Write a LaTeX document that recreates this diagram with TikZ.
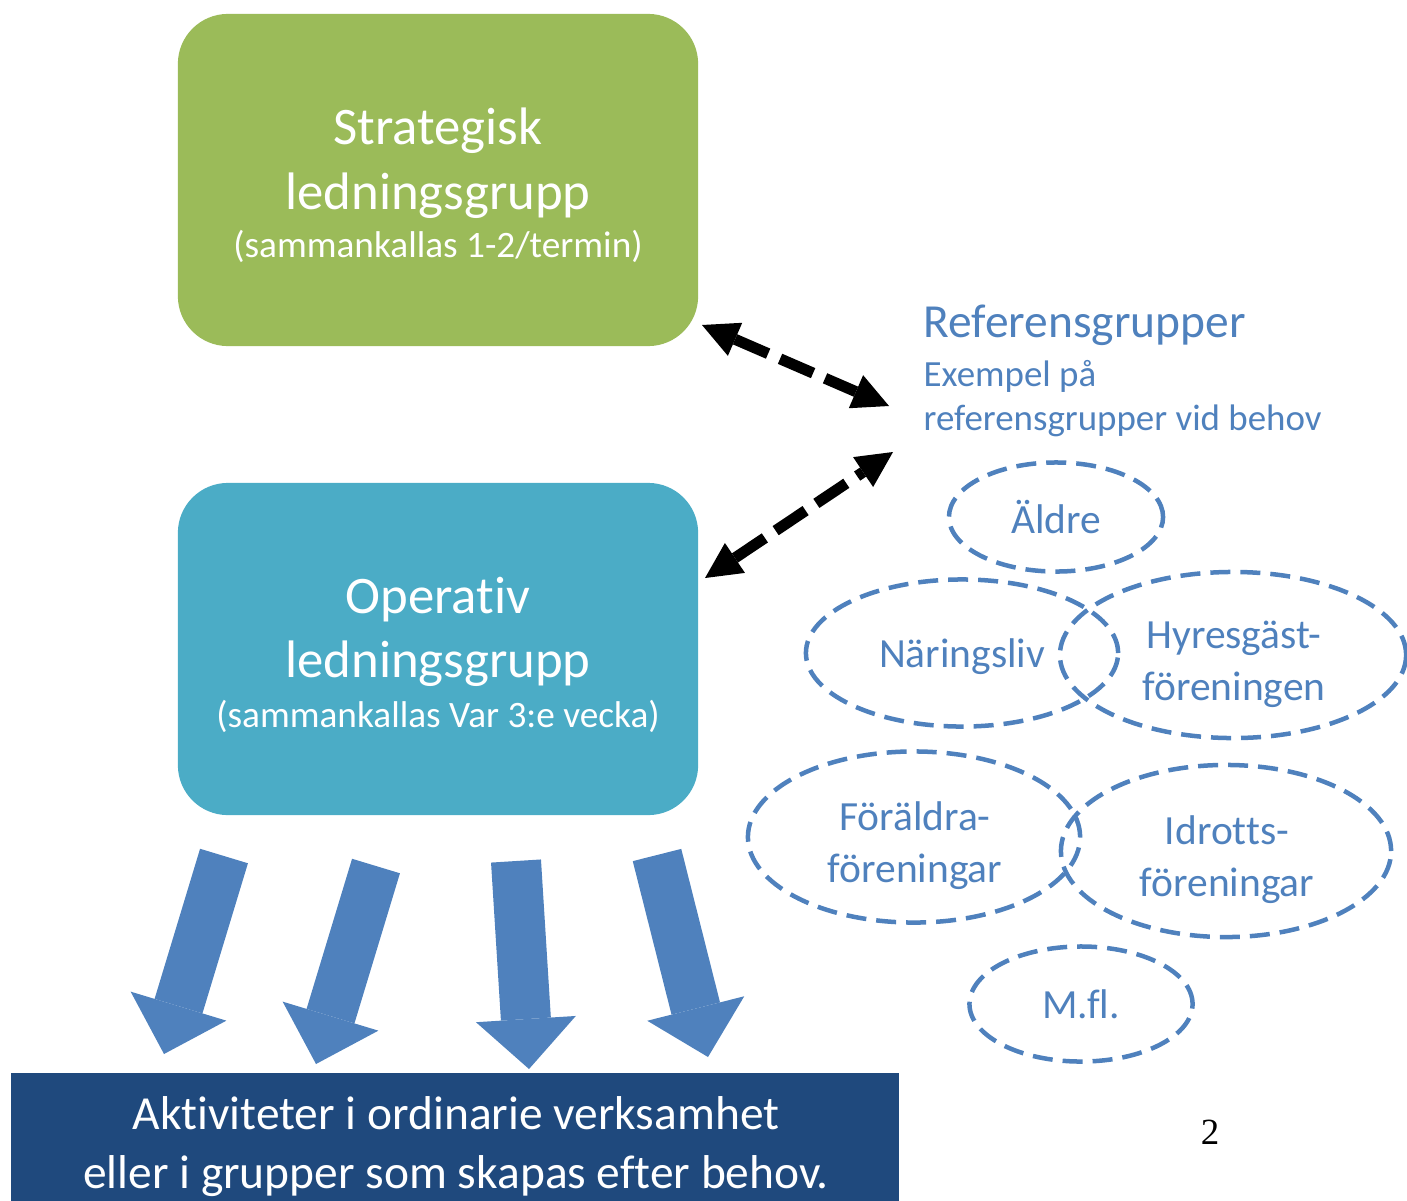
\documentclass[tikz,border=0pt]{standalone}
\usepackage{fontspec}
\setmainfont{Carlito}[Ligatures=NoCommon]
\newfontfamily\pagenumfont{Liberation Serif}
\usetikzlibrary{positioning, shapes.geometric, arrows.meta}

\definecolor{stratgreen}{HTML}{9BBB59}
\definecolor{opteal}{HTML}{4BACC6}
\definecolor{actnavy}{HTML}{1F497D}
\definecolor{refblue}{HTML}{4F81BD}

\begin{document}
\begin{tikzpicture}[
    x=0.01cm, y=-0.01cm,
    leadbox/.style={rectangle, rounded corners=0.5cm, minimum width=5.2cm, minimum height=3.32cm, inner sep=0pt},
    boxtitle/.style={text=white, align=center, inner sep=0pt, font=\fontsize{15}{18.4}\selectfont},
    boxnote/.style={text=white, inner sep=0pt, font=\fontsize{10.6}{12}\selectfont},
    refgroup/.style={ellipse, draw=refblue, line width=0.045cm, dash pattern=on 0.2cm off 0.1cm, inner sep=0pt, text=refblue, align=center, font=\fontsize{11.8}{14.8}\selectfont},
    reflabel/.style={text=refblue, align=center, inner sep=0pt, font=\fontsize{11.8}{14.8}\selectfont},
    reftext/.style={text=refblue, anchor=west, inner sep=0pt},
    link/.style={draw, line width=0.11cm, dash pattern=on 0.36cm off 0.13cm, {Triangle[length=0.36cm, width=0.36cm, line width=0pt]}-{Triangle[length=0.36cm, width=0.36cm, line width=0pt]}},
    flow/.style={draw=refblue, line width=0.5cm, -{Triangle[length=0.5cm, width=1cm, line width=0pt]}}
]
\useasboundingbox (0,0) rectangle (1407,1200);

% Leadership groups
\node[leadbox, fill=stratgreen] (strat) at (438,180) {};
\node[boxtitle] (strattitle) at (438,163) {Strategisk\\ledningsgrupp};
\node[boxnote] (stratnote) at (438,246) {(sammankallas 1-2/termin)};

\node[leadbox, fill=opteal] (oper) at (438,649) {};
\node[boxtitle] (opertitle) at (438,632) {Operativ\\ledningsgrupp};
\node[boxnote] (opernote) at (438,716) {(sammankallas Var 3:e vecka)};

% Activities
\node[rectangle, fill=actnavy, minimum width=8.88cm, minimum height=1.28cm, anchor=north west, inner sep=0pt] (acts) at (10,1072) {};
\node[text=white, align=center, inner sep=0pt, font=\fontsize{13.5}{16.8}\selectfont] (actstext) at (456,1147) {Aktiviteter i ordinarie verksamhet\\eller i grupper som skapas efter behov.};

% Reference groups
\node[reftext, font=\fontsize{13.5}{16}\selectfont] (reftitle) at (923,325) {Referensgrupper};
\node[reftext, font=\fontsize{10.5}{12}\selectfont] (refex) at (923,376) {Exempel på};
\node[reftext, font=\fontsize{10.5}{12}\selectfont] (refneed) at (923,421) {referensgrupper vid behov};

\node[refgroup, minimum width=2.14cm, minimum height=1.09cm] (aldre) at (1056,517) {Äldre};
\node[refgroup, minimum width=3.12cm, minimum height=1.47cm] (naring) at (962,653) {};
\node[refgroup, minimum width=3.46cm, minimum height=1.66cm] (hyres) at (1233,655) {};
\node[refgroup, minimum width=3.32cm, minimum height=1.71cm] (foraldra) at (914,837) {};
\node[refgroup, minimum width=3.30cm, minimum height=1.72cm] (idrott) at (1226,851) {};
\node[refgroup, minimum width=2.23cm, minimum height=1.15cm] (mfl) at (1081,1004) {M.fl.};

\node[reflabel] (naringlabel) at (962,657) {Näringsliv};
\node[reflabel] (hyreslabel) at (1234,664) {Hyresgäst-\\föreningen};
\node[reflabel] (foraldralabel) at (915,846) {Föräldra-\\föreningar};
\node[reflabel] (idrottlabel) at (1227,860) {Idrotts-\\föreningar};

% Links to the reference groups
\coordinate (stratlink) at (702,325);
\coordinate (reflinktop) at (889,406);
\coordinate (operlink) at (705,578);
\coordinate (reflinkbot) at (893,452);
\draw[link] (stratlink) -- (reflinktop);
\draw[link] (operlink) -- (reflinkbot);

% Flow down to the activities
\coordinate (flowa) at (224,856);
\coordinate (flowaend) at (164,1054);
\coordinate (flowb) at (376,866);
\coordinate (flowbend) at (316,1064);
\coordinate (flowc) at (516,861);
\coordinate (flowcend) at (529,1069);
\coordinate (flowd) at (657,855);
\coordinate (flowdend) at (708,1057);
\draw[flow] (flowa) -- (flowaend);
\draw[flow] (flowb) -- (flowbend);
\draw[flow] (flowc) -- (flowcend);
\draw[flow] (flowd) -- (flowdend);

% Page number
\node[inner sep=0pt, font=\pagenumfont\fontsize{10.5}{12}\selectfont] (pagenum) at (1210,1132) {2};

\end{tikzpicture}
\end{document}
